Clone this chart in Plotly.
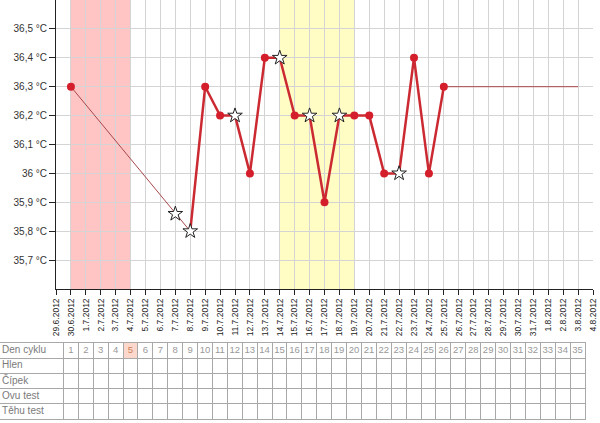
import plotly.graph_objects as go

# osa x - dny cyklu
dates = ["29.6.2012", "30.6.2012", "1.7.2012", "2.7.2012", "3.7.2012", "4.7.2012",
         "5.7.2012", "6.7.2012", "7.7.2012", "8.7.2012", "9.7.2012", "10.7.2012",
         "11.7.2012", "12.7.2012", "13.7.2012", "14.7.2012", "15.7.2012", "16.7.2012",
         "17.7.2012", "18.7.2012", "19.7.2012", "20.7.2012", "21.7.2012", "22.7.2012",
         "23.7.2012", "24.7.2012", "25.7.2012", "26.7.2012", "27.7.2012", "28.7.2012",
         "29.7.2012", "30.7.2012", "31.7.2012", "1.8.2012", "2.8.2012", "3.8.2012",
         "4.8.2012"]

# hlavni krivka
line_dates = ["8.7.2012", "9.7.2012", "10.7.2012", "11.7.2012", "12.7.2012", "13.7.2012",
              "14.7.2012", "15.7.2012", "16.7.2012", "17.7.2012", "18.7.2012", "19.7.2012",
              "20.7.2012", "21.7.2012", "22.7.2012", "23.7.2012", "24.7.2012", "25.7.2012"]
line_temps = [35.8, 36.3, 36.2, 36.2, 36.0, 36.4, 36.4, 36.2, 36.2, 35.9, 36.2, 36.2,
              36.2, 36.0, 36.0, 36.4, 36.0, 36.3]

# tenke spojnice
gap_dates = ["30.6.2012", "7.7.2012", "8.7.2012"]
gap_temps = [36.3, 35.86, 35.8]
tail_dates = ["25.7.2012", "3.8.2012"]
tail_temps = [36.3, 36.3]

# body
dot_dates = ["30.6.2012", "9.7.2012", "10.7.2012", "12.7.2012", "13.7.2012", "15.7.2012",
             "17.7.2012", "19.7.2012", "20.7.2012", "21.7.2012", "23.7.2012", "24.7.2012",
             "25.7.2012"]
dot_temps = [36.3, 36.3, 36.2, 36.0, 36.4, 36.2, 35.9, 36.2, 36.2, 36.0, 36.4, 36.0, 36.3]
star_dates = ["7.7.2012", "8.7.2012", "11.7.2012", "14.7.2012", "16.7.2012", "18.7.2012",
              "22.7.2012"]
star_temps = [35.86, 35.8, 36.2, 36.4, 36.2, 36.2, 36.0]

# pasma
period_band = ["30.6.2012", "4.7.2012"]
fertile_band = ["14.7.2012", "19.7.2012"]

y_ticks = [35.7, 35.8, 35.9, 36.0, 36.1, 36.2, 36.3, 36.4, 36.5]
y_labels = ["35,7 °C", "35,8 °C", "35,9 °C", "36 °C", "36,1 °C", "36,2 °C",
            "36,3 °C", "36,4 °C", "36,5 °C"]

# tabulka
row_labels = ["Den cyklu", "Hlen", "Čípek", "Ovu test", "Těhu test"]
cycle_days = list(range(1, 36))
today = 5

font = "Liberation Sans, Arial, sans-serif"
plot_bottom = 1 - 289 / 423

fig = go.Figure()

fig.add_trace(go.Scatter(x=gap_dates, y=gap_temps, mode="lines",
                         line=dict(color="#a8484c", width=1), hoverinfo="skip"))
fig.add_trace(go.Scatter(x=tail_dates, y=tail_temps, mode="lines",
                         line=dict(color="#a8484c", width=1), hoverinfo="skip"))
fig.add_trace(go.Scatter(x=line_dates, y=line_temps, mode="lines",
                         line=dict(color="#cc2a32", width=2.5)))
fig.add_trace(go.Scatter(x=dot_dates, y=dot_temps, mode="markers",
                         marker=dict(color="#d41e2c", size=8)))
fig.add_trace(go.Scatter(x=star_dates, y=star_temps, mode="markers",
                         marker=dict(symbol="star", color="white", size=11,
                                     line=dict(color="#222222", width=1))))

fig.add_shape(type="rect", xref="x", yref="paper", x0=period_band[0], x1=period_band[1],
              y0=plot_bottom, y1=1, fillcolor="#ffc4c4", line_width=0, layer="below")
fig.add_shape(type="rect", xref="x", yref="paper", x0=fertile_band[0], x1=fertile_band[1],
              y0=plot_bottom, y1=1, fillcolor="#fffcc4", line_width=0, layer="below")

# tabulka pod grafem - osa x2 v jednotkach dnu (sloupec dne k ma stred v k)
fig.add_shape(type="rect", xref="x2", yref="y2", x0=today - 0.5, x1=today + 0.5,
              y0=0, y1=1, fillcolor="#fcd8cc", line_width=0, layer="below")
fig.add_trace(go.Scatter(x=cycle_days, y=[0.5] * len(cycle_days), mode="text",
                         text=[str(d) for d in cycle_days], xaxis="x2", yaxis="y2",
                         textfont=dict(family=font, size=9.5,
                                       color=["#d0805c" if d == today else "#999999"
                                              for d in cycle_days]),
                         hoverinfo="skip"))
fig.add_trace(go.Scatter(x=[-3.62] * len(row_labels),
                         y=[r + 0.5 for r in range(len(row_labels))],
                         mode="text", text=row_labels, textposition="middle right",
                         xaxis="x2", yaxis="y2",
                         textfont=dict(family=font, size=10, color="#7a7a7a"),
                         hoverinfo="skip"))

fig.update_layout(
    xaxis=dict(type="category", categoryorder="array", categoryarray=dates,
               range=[0, len(dates) - 1], domain=[56 / 600, 593 / 600], anchor="y",
               tickangle=-90, tickfont=dict(family=font, size=8.5, color="#222222"),
               ticks="outside", ticklen=5, tickcolor="#222222",
               showline=True, linecolor="#222222", linewidth=1,
               showgrid=True, gridcolor="#d4d4d4", gridwidth=1,
               zeroline=False, automargin=False),
    yaxis=dict(range=[35.6, 36.6], domain=[plot_bottom, 1], anchor="x",
               tickvals=y_ticks, ticktext=y_labels,
               tickfont=dict(family=font, size=10, color="#333333"),
               ticks="outside", ticklen=6, tickcolor="#222222",
               showline=True, linecolor="#222222", linewidth=1,
               showgrid=True, gridcolor="#d4d4d4", gridwidth=1,
               zeroline=False, automargin=False),
    xaxis2=dict(domain=[0, 585 / 600], range=[-56 / 14.9, 35.5], anchor="y2",
                tickvals=[k + 0.5 for k in range(len(cycle_days))], showticklabels=False,
                ticks="", showgrid=True, gridcolor="#a8a8a8", gridwidth=1,
                showline=True, mirror=True, linecolor="#a8a8a8", zeroline=False,
                automargin=False),
    yaxis2=dict(domain=[1 - 419 / 423, 1 - 343 / 423], range=[5, 0], anchor="x2",
                tickvals=[1, 2, 3, 4], showticklabels=False, ticks="",
                showgrid=True, gridcolor="#a8a8a8", gridwidth=1, side="right",
                showline=True, linecolor="#a8a8a8", zeroline=False, automargin=False),
    width=600, height=423,
    margin=dict(l=0, r=0, t=0, b=0),
    paper_bgcolor="white", plot_bgcolor="white",
    showlegend=False,
    font=dict(family=font),
)

fig.write_html("out.html", config={"displayModeBar": False},
               post_script="document.body.style.margin='0';")
